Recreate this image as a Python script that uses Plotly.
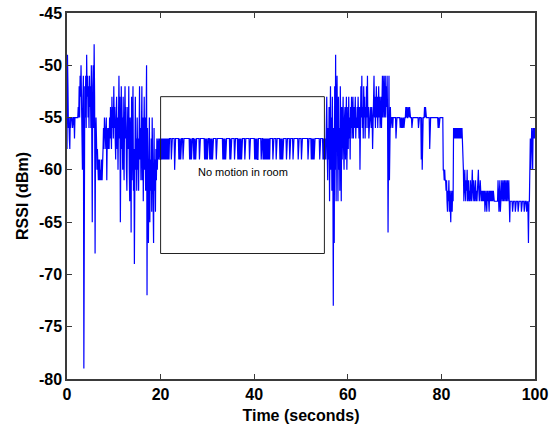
import numpy as np
import plotly.graph_objects as go

# RSSI samples (dBm), 10 samples per second; one row per second
SAMPLE_PERIOD = 0.1

rssi_00_10 = [
    -58, -49, -52, -56, -55, -57, -58, -55, -56, -55,
    -55, -55, -56, -55, -55, -55, -57, -55, -55, -55,
    -55, -55, -55, -55, -54, -55, -52, -55, -51, -53,
    -50, -54, -52, -60, -53, -51, -79, -56, -52, -55,
    -51, -56, -49, -53, -51, -55, -52, -56, -51, -54,
    -52, -56, -50, -55, -65, -52, -50, -56, -48, -53,
    -68, -57, -55, -57, -60, -58, -60, -61, -59, -61,
    -59, -61, -60, -61, -59, -61, -60, -58, -56, -58,
    -55, -57, -56, -58, -55, -61, -57, -56, -58, -56,
    -58, -55, -57, -54, -56, -58, -53, -56, -54, -57,
]
rssi_10_20 = [
    -52, -56, -54, -57, -59, -55, -53, -58, -55, -60,
    -54, -51, -57, -53, -65, -56, -52, -58, -55, -60,
    -53, -58, -61, -55, -52, -57, -54, -60, -62, -56,
    -54, -58, -52, -60, -63, -55, -57, -66, -53, -61,
    -56, -52, -62, -58, -69, -55, -53, -60, -57, -62,
    -55, -60, -57, -62, -55, -52, -59, -56, -61, -57,
    -52, -61, -55, -63, -57, -53, -60, -55, -62, -54,
    -50, -72, -56, -60, -67, -58, -55, -65, -59, -62,
    -57, -64, -55, -60, -58, -67, -56, -62, -59, -64,
    -58, -61, -57, -60, -58, -57, -59, -57, -57, -59,
]
rssi_20_30 = [
    -59, -57, -59, -57, -59, -57, -59, -57, -59, -57,
    -59, -57, -59, -57, -59, -57, -59, -57, -59, -57,
    -57, -57, -57, -59, -57, -57, -57, -57, -57, -57,
    -60, -57, -57, -57, -57, -57, -57, -57, -57, -59,
    -57, -59, -57, -59, -57, -57, -57, -57, -59, -57,
    -57, -57, -57, -57, -57, -57, -57, -57, -57, -57,
    -57, -57, -59, -57, -59, -57, -59, -57, -57, -57,
    -57, -59, -57, -59, -57, -59, -57, -57, -57, -57,
    -57, -57, -57, -59, -57, -57, -57, -57, -57, -57,
    -57, -57, -57, -57, -59, -57, -59, -57, -59, -57,
]
rssi_30_40 = [
    -59, -57, -57, -57, -57, -59, -57, -59, -57, -59,
    -57, -59, -57, -57, -57, -57, -57, -57, -57, -59,
    -57, -57, -57, -57, -57, -57, -57, -57, -57, -57,
    -57, -57, -57, -59, -57, -59, -57, -59, -57, -59,
    -57, -57, -57, -57, -57, -57, -57, -57, -59, -57,
    -59, -57, -57, -57, -57, -57, -57, -57, -59, -57,
    -57, -57, -57, -57, -57, -59, -57, -59, -57, -59,
    -57, -59, -57, -59, -57, -57, -57, -57, -57, -57,
    -59, -57, -57, -57, -57, -57, -57, -57, -57, -57,
    -59, -57, -57, -57, -57, -57, -57, -57, -57, -57,
]
rssi_40_50 = [
    -57, -59, -57, -59, -57, -59, -57, -59, -59, -57,
    -57, -57, -57, -57, -57, -59, -57, -57, -57, -59,
    -57, -59, -57, -59, -57, -59, -57, -59, -57, -59,
    -57, -59, -57, -59, -57, -57, -57, -57, -57, -57,
    -59, -57, -57, -57, -57, -57, -57, -59, -57, -57,
    -57, -57, -57, -57, -57, -59, -57, -59, -57, -59,
    -57, -59, -57, -57, -57, -57, -57, -57, -57, -59,
    -57, -57, -57, -57, -57, -57, -59, -57, -57, -57,
    -57, -57, -57, -59, -57, -57, -57, -57, -57, -57,
    -57, -57, -57, -57, -59, -57, -57, -57, -57, -57,
]
rssi_50_60 = [
    -57, -59, -57, -57, -57, -57, -57, -57, -57, -57,
    -57, -57, -57, -57, -57, -59, -57, -57, -57, -57,
    -57, -57, -59, -57, -59, -57, -59, -57, -59, -57,
    -57, -57, -57, -57, -57, -57, -57, -57, -57, -57,
    -59, -57, -57, -57, -57, -57, -57, -59, -57, -59,
    -57, -59, -57, -59, -55, -53, -58, -61, -56, -59,
    -54, -63, -57, -52, -60, -55, -62, -53, -58, -73,
    -56, -67, -52, -60, -49, -63, -55, -51, -58, -63,
    -53, -60, -56, -62, -52, -57, -63, -54, -59, -56,
    -53, -58, -60, -55, -54, -59, -57, -53, -60, -56,
]
rssi_60_70 = [
    -54, -58, -53, -57, -55, -59, -54, -56, -53, -57,
    -55, -53, -57, -54, -56, -55, -53, -57, -55, -56,
    -54, -56, -53, -55, -57, -54, -60, -56, -52, -55,
    -51, -56, -54, -57, -52, -55, -53, -57, -54, -56,
    -52, -55, -51, -56, -54, -57, -55, -56, -54, -55,
    -56, -54, -55, -58, -55, -56, -51, -55, -53, -56,
    -54, -52, -55, -53, -56, -54, -52, -55, -53, -56,
    -55, -53, -56, -54, -51, -55, -53, -51, -55, -54,
    -51, -55, -52, -54, -51, -55, -66, -53, -51, -61,
    -55, -54, -56, -55, -55, -55, -56, -55, -55, -55,
]
rssi_70_80 = [
    -55, -55, -55, -57, -55, -55, -55, -55, -55, -55,
    -55, -55, -56, -55, -55, -56, -55, -56, -55, -55,
    -56, -55, -55, -55, -54, -55, -54, -55, -55, -54,
    -55, -55, -54, -55, -55, -55, -55, -56, -55, -55,
    -55, -55, -55, -55, -55, -55, -55, -55, -55, -55,
    -55, -56, -55, -55, -55, -55, -55, -59, -55, -60,
    -55, -55, -55, -55, -54, -55, -54, -55, -55, -55,
    -55, -55, -55, -55, -55, -58, -55, -55, -55, -55,
    -55, -55, -55, -55, -55, -55, -55, -55, -55, -55,
    -55, -55, -55, -56, -55, -56, -55, -55, -55, -55,
]
rssi_80_90 = [
    -55, -55, -55, -55, -60, -60, -61, -60, -61, -61,
    -62, -61, -63, -64, -62, -63, -61, -64, -62, -63,
    -65, -62, -63, -64, -62, -63, -56, -57, -56, -57,
    -56, -57, -56, -57, -56, -57, -56, -57, -56, -57,
    -56, -57, -56, -57, -56, -57, -59, -60, -63, -61,
    -60, -62, -63, -61, -62, -60, -63, -62, -61, -63,
    -62, -63, -61, -62, -63, -62, -60, -62, -63, -61,
    -62, -63, -62, -61, -63, -62, -63, -61, -62, -60,
    -62, -63, -62, -61, -62, -63, -62, -63, -62, -63,
    -62, -63, -62, -64, -63, -62, -63, -64, -62, -63,
]
rssi_90_100 = [
    -62, -63, -64, -62, -63, -62, -63, -62, -63, -62,
    -63, -62, -63, -63, -63, -63, -63, -63, -63, -63,
    -63, -61, -63, -64, -62, -61, -64, -62, -63, -61,
    -63, -62, -61, -63, -62, -61, -63, -62, -61, -63,
    -62, -61, -63, -62, -61, -63, -65, -63, -63, -63,
    -63, -63, -64, -63, -63, -63, -63, -63, -64, -63,
    -63, -63, -63, -63, -64, -63, -63, -63, -63, -63,
    -63, -64, -63, -63, -63, -63, -63, -64, -63, -63,
    -63, -63, -64, -63, -63, -64, -67, -63, -63, -60,
    -57, -60, -57, -56, -57, -60, -56, -57, -56, -57,
    -56,
]

rssi = (rssi_00_10 + rssi_10_20 + rssi_20_30 + rssi_30_40 + rssi_40_50
        + rssi_50_60 + rssi_60_70 + rssi_70_80 + rssi_80_90 + rssi_90_100)
time_s = np.arange(len(rssi)) * SAMPLE_PERIOD

# Annotated quiet interval
quiet_box = {"t0": 20, "t1": 55, "top": -53, "bottom": -68}
quiet_label = "No motion in room"

x_ticks = [0, 20, 40, 60, 80, 100]
y_ticks = [-80, -75, -70, -65, -60, -55, -50, -45]

FONT = "Liberation Sans, Arial, Helvetica, sans-serif"
AXIS_COLOR = "#3a3a3a"

fig = go.Figure()
fig.add_trace(go.Scatter(
    x=time_s, y=rssi, mode="lines",
    line=dict(color="#0000ff", width=1.2),
    hoverinfo="skip", showlegend=False,
))

fig.add_shape(
    type="rect", xref="x", yref="y",
    x0=quiet_box["t0"], x1=quiet_box["t1"],
    y0=quiet_box["bottom"], y1=quiet_box["top"],
    line=dict(color="#222222", width=1), fillcolor="rgba(0,0,0,0)",
)
fig.add_annotation(
    x=(quiet_box["t0"] + quiet_box["t1"]) / 2,
    y=(quiet_box["top"] + quiet_box["bottom"]) / 2 + 0.3,
    text=quiet_label, showarrow=False,
    font=dict(family=FONT, size=11, color="#000000"),
)

axis_common = dict(
    showgrid=False, zeroline=False, automargin=False,
    showline=True, linecolor=AXIS_COLOR, linewidth=1.5, mirror="ticks",
    ticks="inside", ticklen=5, tickcolor=AXIS_COLOR, tickwidth=1,
    tickfont=dict(family=FONT, size=16, color="#000000", weight="bold"),
)

fig.update_xaxes(
    range=[0, 100], tickvals=x_ticks, ticktext=[str(v) for v in x_ticks],
    title=dict(text="Time (seconds)", standoff=8,
               font=dict(family=FONT, size=16, color="#000000", weight="bold")),
    **axis_common,
)
fig.update_yaxes(
    range=[-80, -45], tickvals=y_ticks, ticktext=[str(v) for v in y_ticks],
    title=dict(text="RSSI (dBm)", standoff=6,
               font=dict(family=FONT, size=16, color="#000000", weight="bold")),
    **axis_common,
)

fig.update_layout(
    width=551, height=428,
    margin=dict(l=67, r=16, t=13, b=49),
    paper_bgcolor="#ffffff", plot_bgcolor="#ffffff",
)

fig.write_html("out.html")
